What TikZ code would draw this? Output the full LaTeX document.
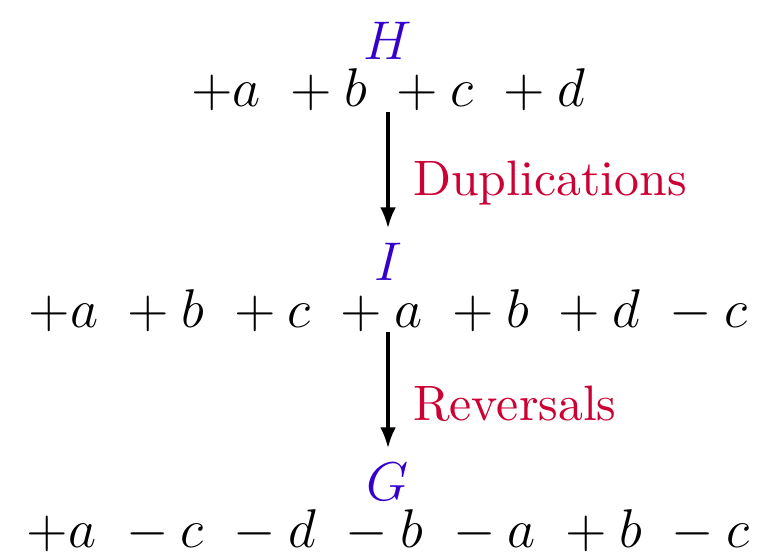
\documentclass[tikz,border=0pt,12pt]{standalone}
\definecolor{gnmblue}{rgb}{0.2,0,0.8}
\definecolor{oprred}{rgb}{0.8,0,0.2}
\usetikzlibrary{arrows.meta}

\begin{document}
\begin{tikzpicture}[x=0.22pt,y=0.22pt,yscale=-1,xscale=1,
	genome/.style={anchor=base,inner sep=0pt},
	gname/.style={anchor=base,inner sep=0pt,text=gnmblue},
	opname/.style={right=1.2pt,text=oprred,font=\small},
	trans/.style={-{Latex[length=4.6pt,width=3.5pt]},line width=0.7pt,shorten >=3pt}]
	\path[use as bounding box] (0,0) rectangle (762,558);
	
	% Genomes
	\node[genome] (gH) at (388,107) {$+a\ +b\ +c\ +d$};
	\node[genome] (gI) at (388,327) {$+a\ +b\ +c\ +a\ +b\ +d\ -c$};
	\node[genome] (gG) at (388,547) {$+a\ -c\ -d\ -b\ -a\ +b\ -c$};
	
	% Genome names
	\node[gname] (nH) at (388,60) {$H$};
	\node[gname] (nI) at (388,280) {$I$};
	\node[gname] (nG) at (388,500) {$G$};
	
	% Operations
	\draw[trans] (gH.south) -- (nI.north) node[opname,pos=0.55] (opdup) {Duplications};
	\draw[trans] (gI.south) -- (nG.north) node[opname,pos=0.55] (oprev) {Reversals};
	
\end{tikzpicture}
\end{document}
